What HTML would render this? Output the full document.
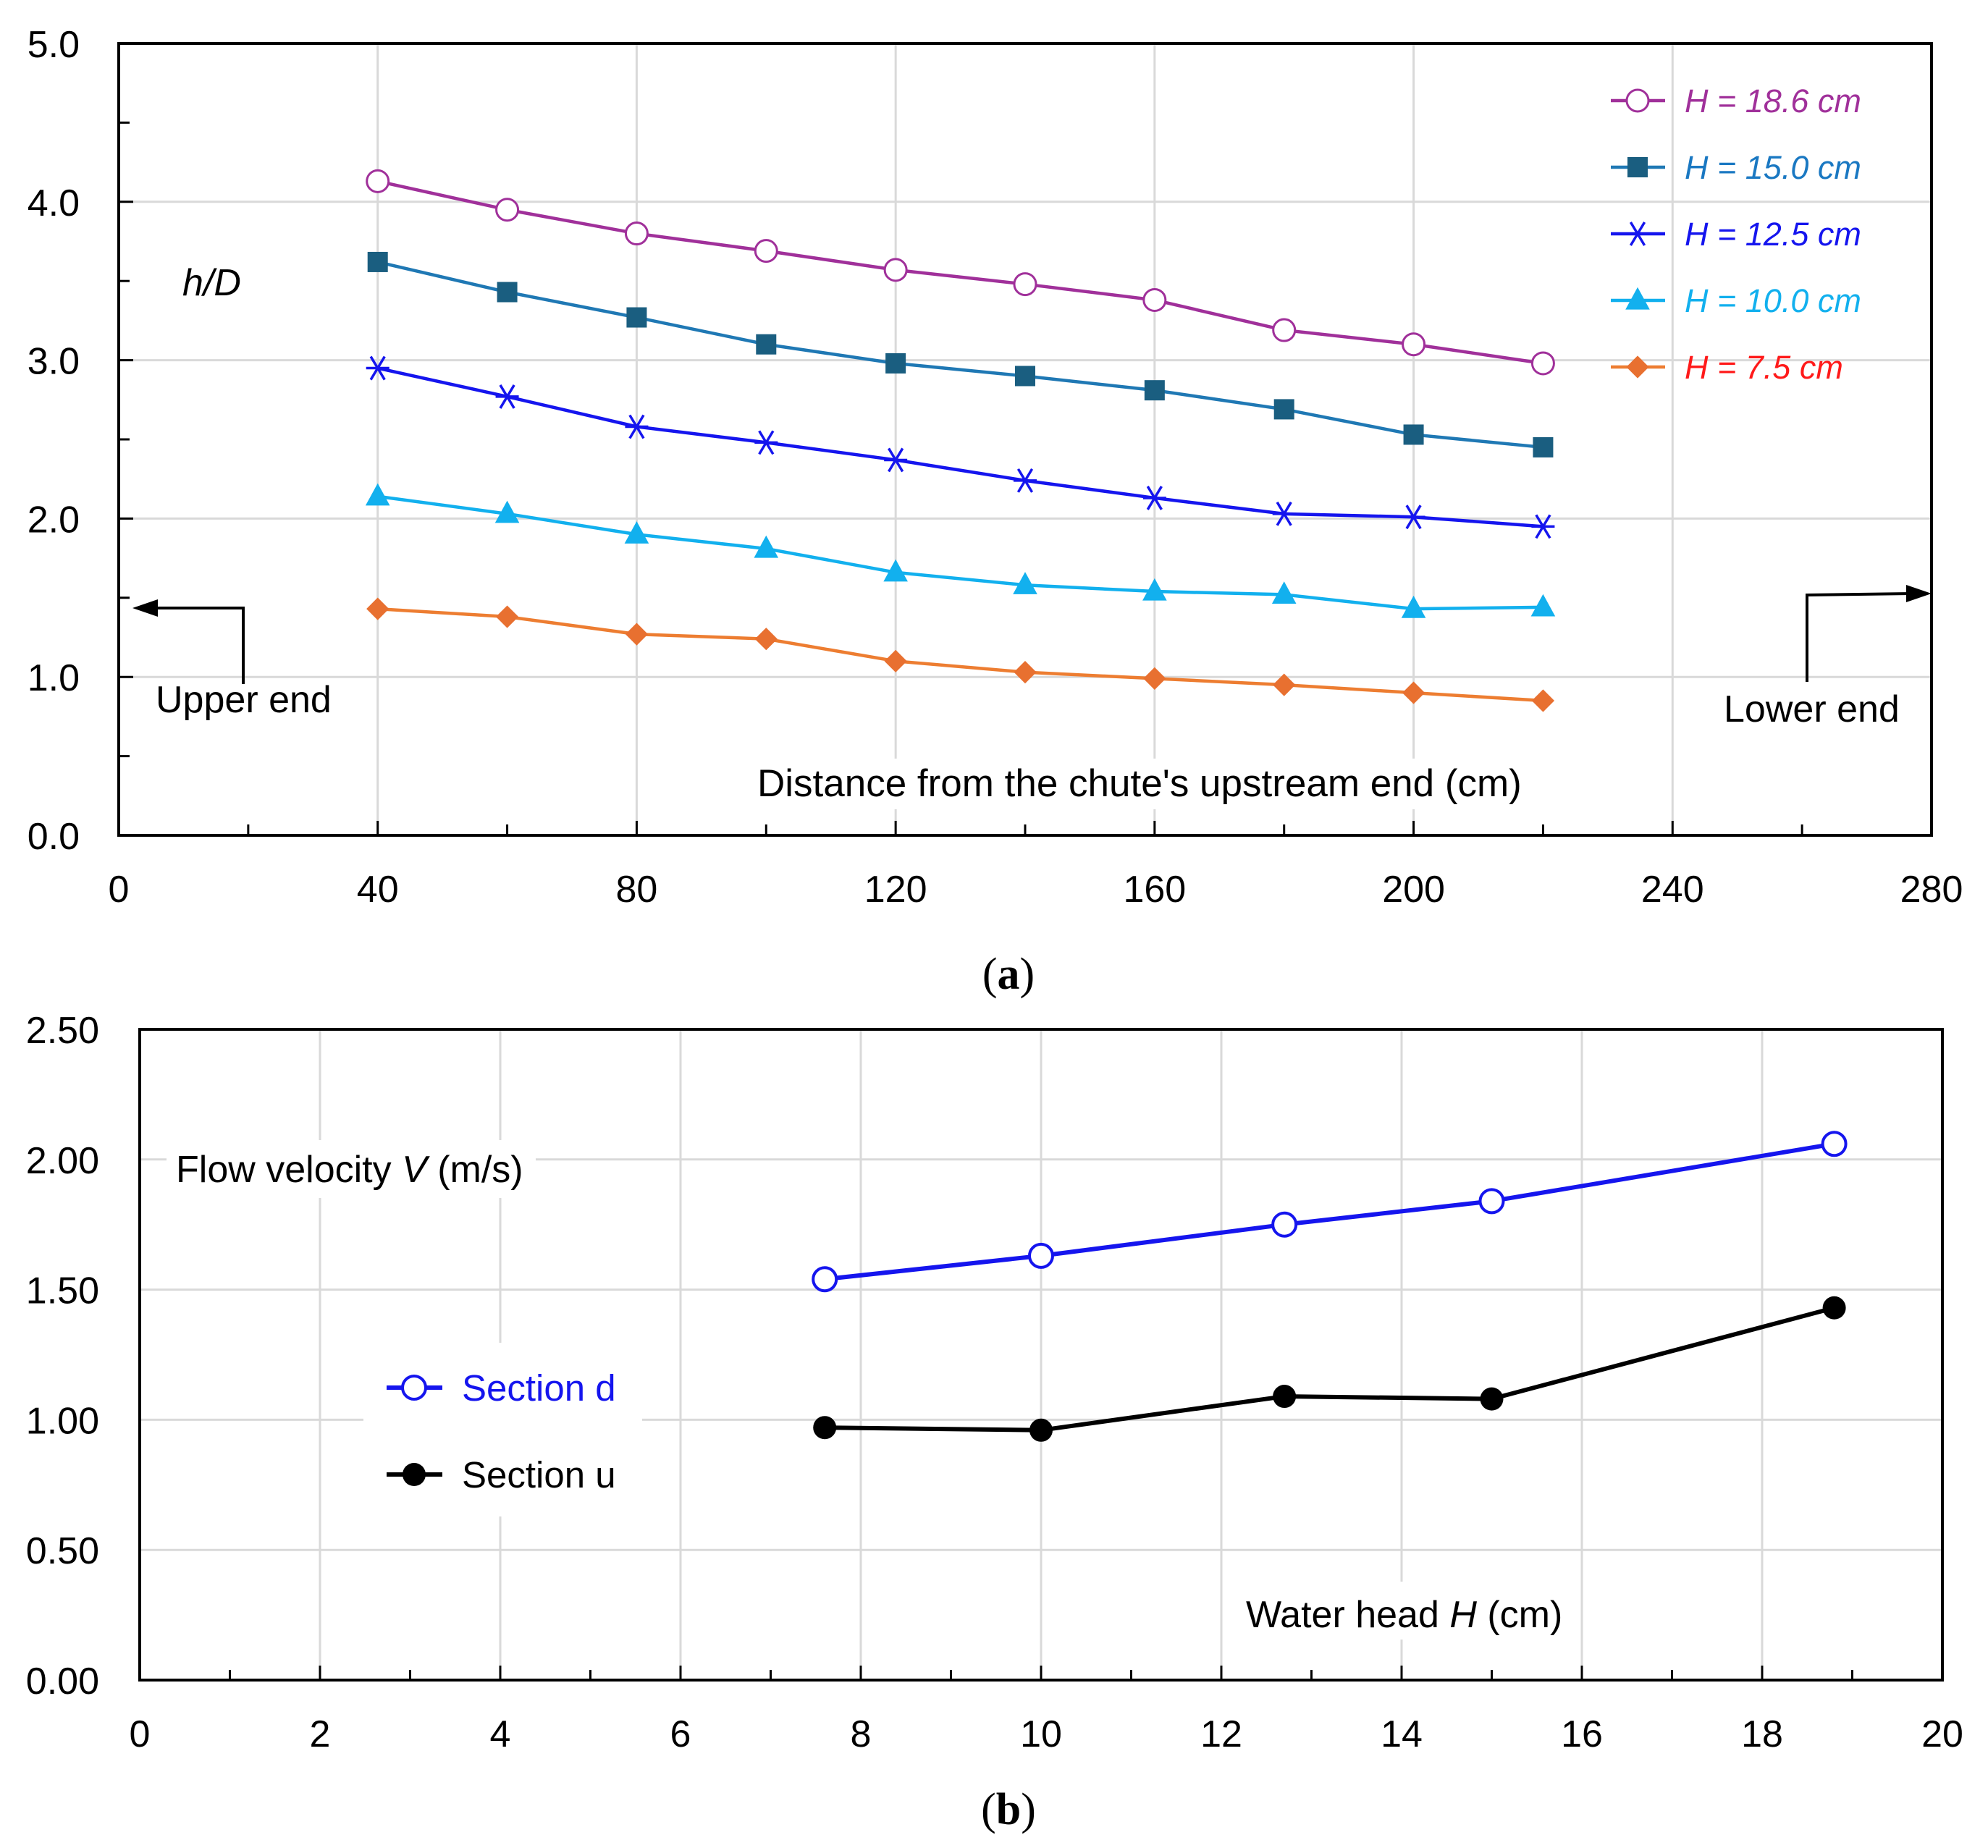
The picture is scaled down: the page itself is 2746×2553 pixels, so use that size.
<!DOCTYPE html>
<html><head><meta charset="utf-8"><style>
html,body{margin:0;padding:0;background:#fff;}
svg{display:block;font-family:"Liberation Sans",sans-serif;}
</style></head><body>
<svg id="fig" width="2746" height="2553" viewBox="0 0 2746 2553" xmlns="http://www.w3.org/2000/svg">
<g id="chartA"></g>
<g id="chartB"></g>
</svg>
<script>
// ---- Chart (a) data ----
const aX = [40,60,80,100,120,140,160,180,200,220];
const aH186 = [4.13,3.95,3.80,3.69,3.57,3.48,3.38,3.19,3.10,2.98];
const aH150 = [3.62,3.43,3.27,3.10,2.98,2.90,2.81,2.69,2.53,2.45];
const aH125 = [2.95,2.77,2.58,2.48,2.37,2.24,2.13,2.03,2.01,1.95];
const aH100 = [2.14,2.03,1.90,1.81,1.66,1.58,1.54,1.52,1.43,1.44];
const aH75  = [1.43,1.38,1.27,1.24,1.10,1.03,0.99,0.95,0.90,0.85];
const aXTicks = ["0","40","80","120","160","200","240","280"];
const aYTicks = ["0.0","1.0","2.0","3.0","4.0","5.0"];
// ---- Chart (b) data ----
const bX = [7.6,10,12.7,15,18.8];
const bSecD = [1.54,1.63,1.75,1.84,2.06];
const bSecU = [0.97,0.96,1.09,1.08,1.43];
const bXTicks = ["0","2","4","6","8","10","12","14","16","18","20"];
const bYTicks = ["0.00","0.50","1.00","1.50","2.00","2.50"];

const NS="http://www.w3.org/2000/svg";
function mk(parent,tag,attrs,text){const e=document.createElementNS(NS,tag);for(const k in attrs)e.setAttribute(k,attrs[k]);if(text!==undefined)e.textContent=text;parent.appendChild(e);return e;}

// ===== Chart A =====
const A=document.getElementById('chartA');
const aL=164,aR=2668,aT=60,aB=1154;
const ax=v=>aL+(v/280)*(aR-aL);
const ay=v=>aB-(v/5)*(aB-aT);
for(let i=1;i<=6;i++){const g=mk(A,'line',{x1:ax(i*40),x2:ax(i*40),y1:aT,y2:aB,stroke:'#d9d9d9','stroke-width':3});

}
for(let i=1;i<=4;i++){const g=mk(A,'line',{x1:aL,x2:aR,y1:ay(i),y2:ay(i),stroke:'#d9d9d9','stroke-width':3});

}
mk(A,'rect',{x:1040,y:1048,width:1090,height:70,fill:'#fff'});
mk(A,'rect',{x:2370,y:950,width:260,height:65,fill:'#fff'});
mk(A,'rect',{x:205,y:940,width:260,height:60,fill:'#fff'});
for(let v=20;v<280;v+=20){const t=mk(A,'line',{x1:ax(v),x2:ax(v),y1:aB,y2:aB-(v%40==0?20:15),stroke:'#000','stroke-width':3});

}
for(let v=0.5;v<5;v+=0.5){const t=mk(A,'line',{x1:aL,x2:aL+(Math.abs(v%1)<0.01?20:15),y1:ay(v),y2:ay(v),stroke:'#000','stroke-width':3});

}
const fa=mk(A,'rect',{x:aL,y:aT,width:aR-aL,height:aB-aT,fill:'none',stroke:'#000','stroke-width':4});


aXTicks.forEach((s,i)=>{const t=mk(A,'text',{x:ax(i*40),y:1246,'text-anchor':'middle','font-size':52,fill:'#000'},s);

});
aYTicks.forEach((s,i)=>{const t=mk(A,'text',{x:110,y:ay(i)+19,'text-anchor':'end','font-size':52,fill:'#000'},s);

});

function marker(g,type,x,y,color,size){
 let e;
 if(type==='circle') e=mk(g,'circle',{cx:x,cy:y,r:size,fill:'#fff',stroke:color,'stroke-width':3});
 else if(type==='square') e=mk(g,'rect',{x:x-size,y:y-size,width:2*size,height:2*size,fill:color});
 else if(type==='tri') e=mk(g,'polygon',{points:`${x},${y-size*1.3} ${x-size*1.2},${y+size*0.9} ${x+size*1.2},${y+size*0.9}`,fill:color});
 else if(type==='diamond') e=mk(g,'polygon',{points:`${x},${y-size*1.2} ${x+size*1.2},${y} ${x},${y+size*1.2} ${x-size*1.2},${y}`,fill:color});
 else if(type==='star'){e=mk(g,'g',{});const s=size;
  mk(e,'line',{x1:x-s,x2:x+s,y1:y,y2:y,stroke:color,'stroke-width':3.5});
  mk(e,'line',{x1:x-s*0.6,x2:x+s*0.6,y1:y-s,y2:y+s,stroke:color,'stroke-width':3.5});
  mk(e,'line',{x1:x+s*0.6,x2:x-s*0.6,y1:y-s,y2:y+s,stroke:color,'stroke-width':3.5});}
 else if(type==='dot') e=mk(g,'circle',{cx:x,cy:y,r:size,fill:color});
 return e;
}
const aSeries=[
 {name:'h-18-6',vals:aH186,line:'#a0309a',mc:'#a0309a',m:'circle',sz:15,label:'H = 18.6 cm',tc:'#a0309a'},
 {name:'h-15-0',vals:aH150,line:'#1f78b4',mc:'#1a5e80',m:'square',sz:14,label:'H = 15.0 cm',tc:'#1a78c2'},
 {name:'h-12-5',vals:aH125,line:'#1515ee',mc:'#1515ee',m:'star',sz:16,label:'H = 12.5 cm',tc:'#1515ee'},
 {name:'h-10-0',vals:aH100,line:'#12b0ee',mc:'#12b0ee',m:'tri',sz:14,label:'H = 10.0 cm',tc:'#12b0ee'},
 {name:'h-7-5',vals:aH75,line:'#ed7d31',mc:'#e87030',m:'diamond',sz:13,label:'H = 7.5 cm',tc:'#ff1a1a'}];
const legY=[139,231,323,415,507];
aSeries.forEach((s,si)=>{
 const g=mk(A,'g',{});
 
 
 const pts=aX.map((x,i)=>ax(x)+','+ay(s.vals[i])).join(' ');
 const pl=mk(g,'polyline',{points:pts,fill:'none',stroke:s.line,'stroke-width':4.5,'stroke-linejoin':'round'});
 
 
 aX.forEach((x,i)=>{const m=marker(g,s.m,ax(x),ay(s.vals[i]),s.mc,s.sz);
  
  });
 const lg=mk(A,'g',{});
 
 
 mk(lg,'line',{x1:2225,x2:2300,y1:legY[si],y2:legY[si],stroke:s.line,'stroke-width':4.5});
 marker(lg,s.m,2262,legY[si],s.mc,s.sz);
 mk(lg,'text',{x:2327,y:legY[si]+16,'font-size':45,'font-style':'italic',fill:s.tc},s.label);
});
const t1=mk(A,'text',{x:252,y:408,'font-size':52,'font-style':'italic',fill:'#000'},'h/D');


const t2=mk(A,'text',{x:1046,y:1100,'font-size':53,fill:'#000'},"Distance from the chute's upstream end (cm)");


const t3=mk(A,'text',{x:215,y:984,'font-size':52,fill:'#000'},'Upper end');


const t4=mk(A,'text',{x:2381,y:997,'font-size':52,fill:'#000'},'Lower end');


const ar1=mk(A,'g',{});


mk(ar1,'polyline',{points:'336,945 336,840 210,840',fill:'none',stroke:'#000','stroke-width':4});
mk(ar1,'polygon',{points:'183,840 218,828 218,852',fill:'#000'});
const ar2=mk(A,'g',{});


mk(ar2,'polyline',{points:'2496,942 2496,822 2640,820',fill:'none',stroke:'#000','stroke-width':4});
mk(ar2,'polygon',{points:'2668,820 2633,808 2633,832',fill:'#000'});
const ca=mk(A,'text',{x:1393,y:1366,'text-anchor':'middle','font-size':62,'font-family':'Liberation Serif, serif',fill:'#000'});


mk(ca,'tspan',{},'(');mk(ca,'tspan',{'font-weight':'bold'},'a');mk(ca,'tspan',{},')');

// ===== Chart B =====
const B=document.getElementById('chartB');
const bL=193,bR=2683,bT=1422,bB=2321;
const bx=v=>bL+(v/20)*(bR-bL);
const by=v=>bB-(v/2.5)*(bB-bT);
for(let i=1;i<=9;i++){const g=mk(B,'line',{x1:bx(i*2),x2:bx(i*2),y1:bT,y2:bB,stroke:'#d9d9d9','stroke-width':3});

}
for(let i=1;i<=4;i++){const g=mk(B,'line',{x1:bL,x2:bR,y1:by(i*0.5),y2:by(i*0.5),stroke:'#d9d9d9','stroke-width':3});

}
mk(B,'rect',{x:230,y:1575,width:510,height:80,fill:'#fff'});
mk(B,'rect',{x:502,y:1855,width:385,height:240,fill:'#fff'});
mk(B,'rect',{x:1710,y:2185,width:470,height:80,fill:'#fff'});
for(let v=1;v<20;v++){const t=mk(B,'line',{x1:bx(v),x2:bx(v),y1:bB,y2:bB-(v%2==0?20:14),stroke:'#000','stroke-width':3});

}
const fb=mk(B,'rect',{x:bL,y:bT,width:bR-bL,height:bB-bT,fill:'none',stroke:'#000','stroke-width':4});


bXTicks.forEach((s,i)=>{const t=mk(B,'text',{x:bx(i*2),y:2413,'text-anchor':'middle','font-size':52,fill:'#000'},s);

});
bYTicks.forEach((s,i)=>{const t=mk(B,'text',{x:137,y:by(i*0.5)+19,'text-anchor':'end','font-size':52,fill:'#000'},s);

});
const bSeries=[{name:'section-d',vals:bSecD,c:'#1515ee',m:'circle',label:'Section d',ly:1917},
 {name:'section-u',vals:bSecU,c:'#000',m:'dot',label:'Section u',ly:2037}];
bSeries.forEach(s=>{
 const g=mk(B,'g',{});
 
 
 const pl=mk(g,'polyline',{points:bX.map((x,i)=>bx(x)+','+by(s.vals[i])).join(' '),fill:'none',stroke:s.c,'stroke-width':6,'stroke-linejoin':'round'});
 
 
 bX.forEach((x,i)=>{const m=marker(g,s.m,bx(x),by(s.vals[i]),s.c,16);
  if(s.m==='circle')m.setAttribute('stroke-width',4);
  
  });
 const lg=mk(B,'g',{});
 
 
 mk(lg,'line',{x1:534,x2:611,y1:s.ly,y2:s.ly,stroke:s.c,'stroke-width':6});
 const lm=marker(lg,s.m,572,s.ly,s.c,16);
 if(s.m==='circle')lm.setAttribute('stroke-width',4);
 mk(lg,'text',{x:638,y:s.ly+18,'font-size':51,fill:s.c},s.label);
});
const tb1=mk(B,'text',{x:243,y:1633,'font-size':52,fill:'#000'});


mk(tb1,'tspan',{},'Flow velocity ');mk(tb1,'tspan',{'font-style':'italic'},'V');mk(tb1,'tspan',{},' (m/s)');
const tb2=mk(B,'text',{x:1721,y:2248,'font-size':52,fill:'#000'});


mk(tb2,'tspan',{},'Water head ');mk(tb2,'tspan',{'font-style':'italic'},'H');mk(tb2,'tspan',{},' (cm)');
const cb=mk(B,'text',{x:1393,y:2520,'text-anchor':'middle','font-size':62,'font-family':'Liberation Serif, serif',fill:'#000'});


mk(cb,'tspan',{},'(');mk(cb,'tspan',{'font-weight':'bold'},'b');mk(cb,'tspan',{},')');
</script>
</body></html>
